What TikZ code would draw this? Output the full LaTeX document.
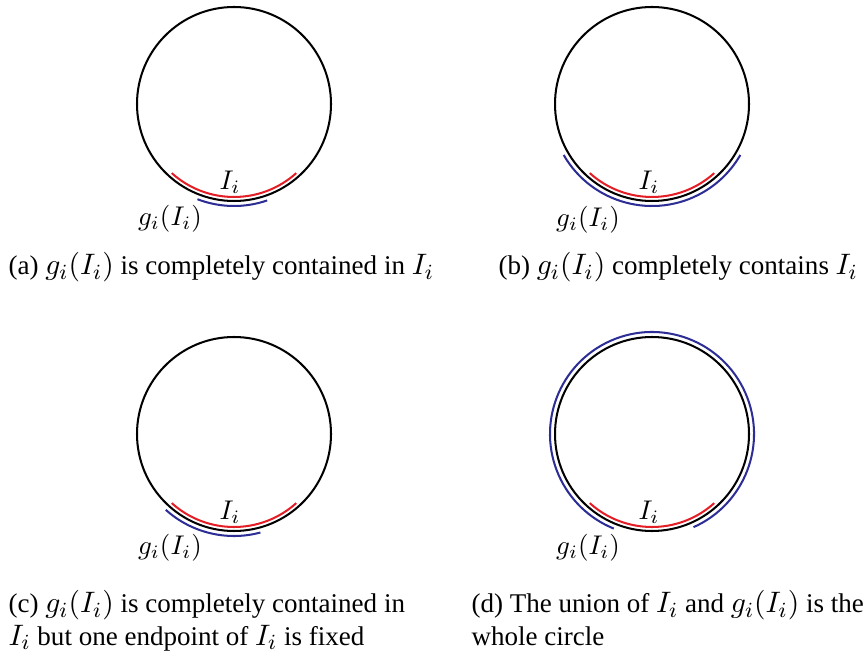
\documentclass[tikz,border=0pt]{standalone}
\usepackage{fontspec}
\setmainfont{Liberation Serif}
\usepackage{tikz}
\usetikzlibrary{positioning}
\usepackage{xcolor}
\definecolor{arcred}{RGB}{228,30,38}
\definecolor{arcblue}{RGB}{45,45,150}
\newcommand{\capm}[1]{{\fontsize{11}{12}\selectfont$#1$}}

\begin{document}
\begin{tikzpicture}[x=0.37pt, y=0.37pt,
        circ/.style={draw=black, line width=0.75pt},
        setI/.style={draw=arcred, line width=0.75pt},
        setG/.style={draw=arcblue, line width=0.75pt},
        lbl/.style={inner sep=0pt},
        captxt/.style={anchor=north west, align=left, inner sep=0pt}
    ]
    \useasboundingbox (0,0) rectangle (863,656);
    % Centros
    \coordinate (ca) at (234,552);
    \coordinate (cb) at (652,552);
    \coordinate (cc) at (234,222);
    \coordinate (cd) at (652,222);
    % Círculos
    \foreach \c in {ca,cb,cc,cd}
        \draw[circ] (\c) circle (97);
    % (a)
    \draw[setI] ([shift={(228:93)}]ca) arc (228:312:93);
    \draw[setG] ([shift={(249:102)}]ca) arc (249:289:102);
    \node[lbl] (ia) at (230,474) {$I_i$};
    \node[lbl] (ga) at (170,437) {$g_i(I_i)$};
    % (b)
    \draw[setI] ([shift={(228:93)}]cb) arc (228:312:93);
    \draw[setG] ([shift={(210:102)}]cb) arc (210:330:102);
    \node[lbl] (ib) at (649,474) {$I_i$};
    \node[lbl] (gb) at (588,436) {$g_i(I_i)$};
    % (c)
    \draw[setI] ([shift={(228:93)}]cc) arc (228:312:93);
    \draw[setG] ([shift={(228:102)}]cc) arc (228:285:102);
    \node[lbl] (ic) at (230,144) {$I_i$};
    \node[lbl] (gc) at (170,108) {$g_i(I_i)$};
    % (d)
    \draw[setI] ([shift={(228:93)}]cd) arc (228:312:93);
    \draw[setG] ([shift={(294:102)}]cd) arc (294:608:102);
    \node[lbl] (id) at (649,144) {$I_i$};
    \node[lbl] (gd) at (588,108) {$g_i(I_i)$};
    % Legendas
    \node[captxt] (capa) at (8,404) {(a) \capm{g_i(I_i)} is completely contained in \capm{I_i}};
    \node[captxt] (capb) at (498,404) {(b) \capm{g_i(I_i)} completely contains \capm{I_i}};
    \node[captxt] (capc) at (8,66) {(c) \capm{g_i(I_i)} is completely contained in\\\capm{I_i} but one endpoint of \capm{I_i} is fixed};
    \node[captxt] (capd) at (471,66) {(d) The union of \capm{I_i} and \capm{g_i(I_i)} is the\\whole circle};
\end{tikzpicture}
\end{document}
